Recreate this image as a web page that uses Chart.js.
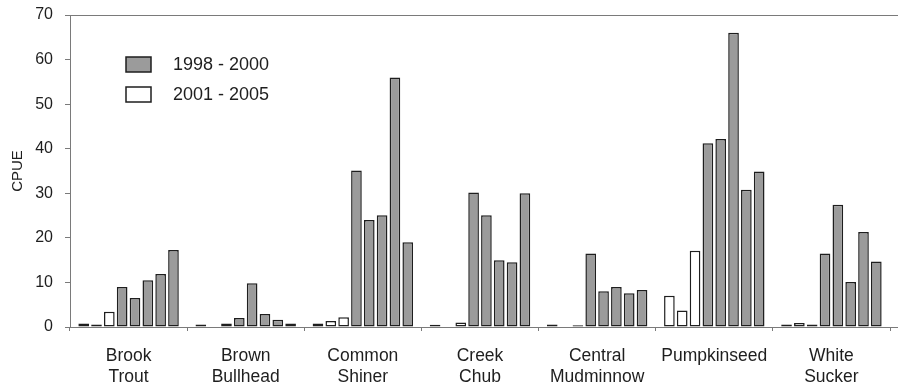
<!DOCTYPE html>
<html>
<head>
<meta charset="utf-8">
<script src="https://cdn.jsdelivr.net/npm/chart.js@4/dist/chart.umd.min.js"></script>
<style>
  html, body { margin: 0; padding: 0; background: #ffffff; }
  #wrap { width: 898px; height: 382px; position: relative; }
</style>
</head>
<body>
<div id="wrap"><canvas id="c" width="898" height="382"></canvas></div>
<script>
// Species groups (two-line axis labels)
const species = [
  ['Brook', 'Trout'],
  ['Brown', 'Bullhead'],
  ['Common', 'Shiner'],
  ['Creek', 'Chub'],
  ['Central', 'Mudminnow'],
  ['Pumpkinseed'],
  ['White', 'Sucker']
];

// CPUE per species, eight bars each
const brookTrout       = [0.8, 0.55, 3.4, 9.0, 6.5, 10.5, 11.9, 17.3];
const brownBullhead    = [0.55, null, 0.8, 2.0, 9.8, 2.9, 1.6, 0.8];
const commonShiner     = [0.8, 1.35, 2.2, 35.1, 24.0, 25.1, 56.0, 19.0];
const creekChub        = [0.5, null, 1.0, 30.2, 25.1, 15.0, 14.5, 30.0];
const centralMudminnow = [0.55, null, 0.4, 16.5, 8.0, 9.0, 7.6, 8.3];
const pumpkinseed      = [7.0, 3.7, 17.1, 41.2, 42.2, 66.0, 30.8, 34.9];
const whiteSucker      = [0.55, 0.9, 0.55, 16.5, 27.4, 10.1, 21.3, 14.7];

// Period of each bar (G = 1998 - 2000, W = 2001 - 2005)
const brookTroutPeriod       = ['W', 'G', 'W', 'G', 'G', 'G', 'G', 'G'];
const brownBullheadPeriod    = ['G', 'W', 'W', 'G', 'G', 'G', 'G', 'G'];
const commonShinerPeriod     = ['W', 'W', 'W', 'G', 'G', 'G', 'G', 'G'];
const creekChubPeriod        = ['G', 'W', 'W', 'G', 'G', 'G', 'G', 'G'];
const centralMudminnowPeriod = ['G', 'W', 'G', 'G', 'G', 'G', 'G', 'G'];
const pumpkinseedPeriod      = ['W', 'W', 'W', 'G', 'G', 'G', 'G', 'G'];
const whiteSuckerPeriod      = ['G', 'W', 'G', 'G', 'G', 'G', 'G', 'G'];

// Legend entries and y-axis ticks
const periods = ['1998 - 2000', '2001 - 2005'];
const periodCodes = ['G', 'W'];
const yTicks = [0, 10, 20, 30, 40, 50, 60, 70];

const fills = { G: '#9b9b9b', W: '#ffffff' };
const FONT = '"Liberation Sans", Arial, Helvetica, sans-serif';
const AXIS = '#7a7a7a';
const INK = '#1e1e1e';

const rows = [brookTrout, brownBullhead, commonShiner, creekChub, centralMudminnow, pumpkinseed, whiteSucker];
const rowPeriods = [brookTroutPeriod, brownBullheadPeriod, commonShinerPeriod, creekChubPeriod,
                    centralMudminnowPeriod, pumpkinseedPeriod, whiteSuckerPeriod];

// one dataset per bar position inside a group
const datasets = brookTrout.map((_, i) => ({
  label: 'bar ' + (i + 1),
  data: rows.map(r => r[i]),
  backgroundColor: rowPeriods.map(p => fills[p[i]]),
  borderColor: INK,
  borderWidth: 1.5,
  borderSkipped: false,
  categoryPercentage: 0.876,
  barPercentage: 0.83
}));

// Frame line along the top, baseline running to the right edge, and the inset legend
const framePlugin = {
  id: 'frame',
  beforeDatasetsDraw(chart) {
    const { ctx, chartArea } = chart;
    ctx.save();
    ctx.strokeStyle = AXIS;
    ctx.lineWidth = 1;
    ctx.beginPath();
    ctx.moveTo(chartArea.left, chartArea.bottom + 0.5);
    ctx.lineTo(chart.width, chartArea.bottom + 0.5);
    ctx.stroke();
    ctx.restore();
  },
  afterDatasetsDraw(chart) {
    const { ctx, chartArea } = chart;
    ctx.save();
    ctx.strokeStyle = AXIS;
    ctx.lineWidth = 1;
    ctx.beginPath();
    ctx.moveTo(chartArea.left, chartArea.top + 0.5);
    ctx.lineTo(chart.width, chartArea.top + 0.5);
    ctx.stroke();

    // legend
    const x0 = chartArea.left + 56;
    const y0 = chartArea.top + 42;
    ctx.font = '18px ' + FONT;
    ctx.textBaseline = 'middle';
    ctx.textAlign = 'left';
    periods.forEach((p, i) => {
      const y = y0 + i * 30;
      ctx.fillStyle = fills[periodCodes[i]];
      ctx.fillRect(x0, y, 25, 15);
      ctx.strokeStyle = INK;
      ctx.lineWidth = 1.5;
      ctx.strokeRect(x0, y, 25, 15);
      ctx.fillStyle = INK;
      ctx.fillText(p, x0 + 47, y + 8.5);
    });
    ctx.restore();
  }
};

new Chart(document.getElementById('c'), {
  type: 'bar',
  data: { labels: species, datasets },
  options: {
    responsive: false,
    animation: false,
    devicePixelRatio: 1,
    layout: { padding: { left: 0, top: 15, right: 8, bottom: 0 } },
    plugins: { legend: { display: false }, tooltip: { enabled: false } },
    scales: {
      x: {
        offset: true,
        border: { display: false },
        grid: {
          offset: true,
          drawOnChartArea: false,
          drawTicks: true,
          tickLength: 4,
          color: (c) => (c.index === species.length ? 'rgba(0,0,0,0)' : AXIS),
          lineWidth: 1
        },
        ticks: {
          color: INK,
          font: { family: FONT, size: 17.5 },
          padding: 15,
          maxRotation: 0,
          autoSkip: false
        },
        afterFit(scale) { scale.height = 55; scale.paddingLeft = 0; scale.paddingRight = 0; }
      },
      y: {
        min: 0,
        max: 70,
        border: { display: true, color: AXIS, width: 1 },
        grid: { drawOnChartArea: false, tickLength: 5, color: AXIS },
        afterBuildTicks(scale) { scale.ticks = yTicks.map(v => ({ value: v })); },
        ticks: {
          color: INK,
          font: { family: FONT, size: 16 },
          padding: 12
        },
        title: {
          display: true,
          text: 'CPUE',
          color: INK,
          font: { family: FONT, size: 15 },
          padding: { top: 9, bottom: 0 }
        },
        afterFit(scale) { scale.width = 70; scale.paddingTop = 0; scale.paddingBottom = 0; }
      }
    }
  },
  plugins: [framePlugin]
});
</script>
</body>
</html>
